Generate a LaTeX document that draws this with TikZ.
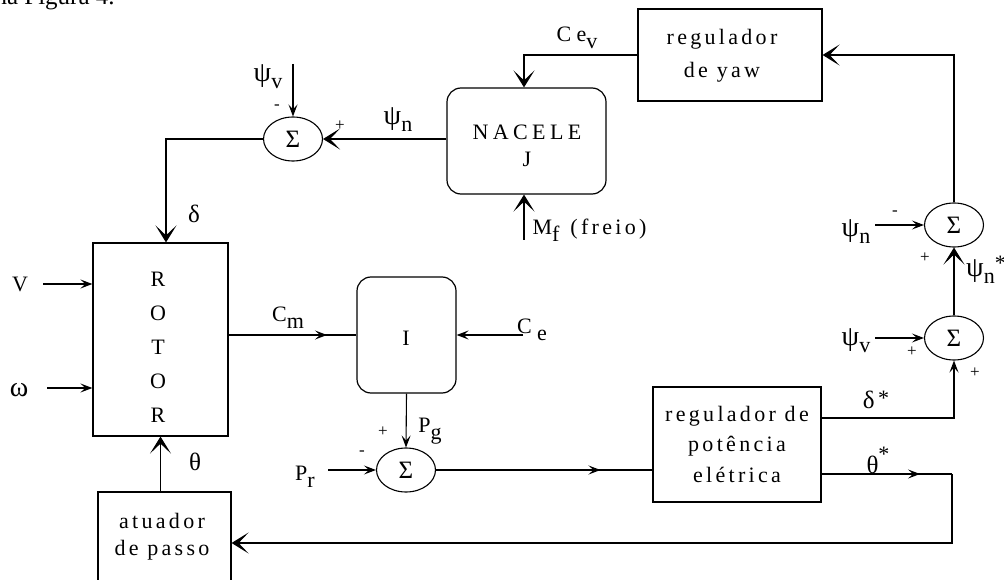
\documentclass[tikz,border=0pt]{standalone}
\usepackage{fontspec}
\setmainfont{Liberation Serif}
\usetikzlibrary{arrows.meta,shapes.geometric,decorations.markings}
\newcommand{\sbx}[1]{\raisebox{-7pt}{#1}}
\newcommand{\lsp}[1]{{\addfontfeature{LetterSpace=15}#1}}
\newcommand{\gk}[2][28]{{\fontsize{#1}{#1}\selectfont #2}}
\begin{document}
\begin{tikzpicture}[x=1pt,y=-1pt,
  font=\fontsize{22}{27}\selectfont,
  line width=1.1pt,
  box/.style={draw, line width=1.2pt, inner sep=0},
  rbox/.style={box, rounded corners=14pt},
  sum/.style={draw, ellipse, minimum width=59pt, minimum height=44pt, inner sep=0, line width=1.1pt},
  big/.style={-{Stealth[length=17pt,width=21pt,inset=10pt]}},
  small/.style={-{Stealth[length=12pt,width=9pt,inset=5pt]}},
  midarr/.style={postaction={decorate}, decoration={markings, mark=at position #1 with {\arrow{Stealth[length=12pt,width=9pt,inset=5pt]}}}},
  lab/.style={inner sep=0},
  sg/.style={inner sep=0, font=\fontsize{17}{17}\selectfont}]
\useasboundingbox (0,0) rectangle (1004,580);
\fill[white] (0,0) rectangle (1004,580);
\node[lab, anchor=base west, font=\fontsize{25}{25}\selectfont] (top) at (-6,5) {na Figura 4.};

% blocks
\node[box, minimum width=135pt, minimum height=193pt] (rotor) at (160.5,339.5) {};
\node[lab, align=center, font=\fontsize{22}{34}\selectfont] (rotortxt) at (158,347) {R\\O\\T\\O\\R};
\node[rbox, minimum width=159pt, minimum height=106pt] (nacele) at (526.5,141) {};
\node[lab, align=center] (nacetxt) at (527,146) {{\addfontfeature{LetterSpace=20}NACELE}\\J};
\node[box, minimum width=184pt, minimum height=92pt] (yaw) at (730,55) {};
\node[lab, align=center, font=\fontsize{22}{33}\selectfont] (yawtxt) at (722,56) {\lsp{regulador}\\\lsp{de yaw}};
\node[rbox, minimum width=99pt, minimum height=116pt] (inert) at (406.5,335) {};
\node[lab] (itxt) at (406,338) {I};
\node[box, minimum width=168pt, minimum height=115pt] (pot) at (737,444.5) {};
\node[lab, align=center, font=\fontsize{22}{30.5}\selectfont] (pottxt) at (737,444) {\lsp{regulador de}\\\lsp{potência}\\\lsp{elétrica}};
\node[box, minimum width=133pt, minimum height=128pt] (atu) at (164.5,556) {};
\node[lab, align=center, font=\fontsize{22}{27}\selectfont] (atutxt) at (162,537) {\lsp{atuador}\\\lsp{de passo}};

% summing junctions
\node[sum] (s1) at (293,139) {\gk[25]{Σ}};
\node[sum] (s2) at (406,470) {\gk[25]{Σ}};
\node[sum] (s3) at (954,225) {\gk[25]{Σ}};
\node[sum] (s4) at (954,338) {\gk[25]{Σ}};

% free ends
\coordinate (psiv1) at (293,64);
\coordinate (mfin) at (524,240);
\coordinate (vin) at (43,284);
\coordinate (win) at (47,388);
\coordinate (cein) at (523,335);
\coordinate (prin) at (328,470);
\coordinate (psin3) at (875,225);
\coordinate (psiv4) at (875,338);
\coordinate (c1) at (952,474);
\coordinate (c2) at (952,543);

% connectors
\draw[small] (psiv1) -- (s1.north);
\draw[big] (nacele.west |- s1.east) -- (s1.east);
\draw[big] (s1.west) -| ([xshift=5.5pt]rotor.north);
\draw[big] (yaw.west) -| ([xshift=-2.5pt]nacele.north);
\draw[big] (mfin) -- ([xshift=-2.5pt]nacele.south);
\draw[big] (s3.north) |- (yaw.east);
\draw[small] (psin3) -- (s3.west);
\draw[big] (s4.north) -- (s3.south);
\draw[small] (psiv4) -- (s4.west);
\draw[small] ([yshift=26.5pt]pot.east) -| (s4.south);
\draw[midarr=0.755] ([yshift=-29.5pt]pot.east) -- (c1);
\draw[big] (c1) -- (c2) -- (c2 -| atu.east);
\draw[big] (atu.north -| rotor.south) -- (rotor.south);
\draw[small] (vin) -- (vin -| rotor.west);
\draw[small] (win) -- (win -| rotor.west);
\draw[line width=2.2pt, midarr=0.77] (rotor.east |- inert.west) -- (inert.west);
\draw[small] (cein) -- (inert.east);
\draw[small] (inert.south) -- (s2.north);
\draw[small] (prin) -- (s2.west);
\draw[midarr=0.76] (s2.east) -- (s2.east -| pot.west);

% labels
\node[lab] (l1) at (268,77) {\gk{ψ}\sbx{v}};
\node[sg] (m1) at (277,107) {-};
\node[sg] (p1) at (340,126) {+};
\node[lab] (l2) at (398,120) {\gk{ψ}\sbx{n}};
\node[lab] (l3) at (194,214) {\gk[25]{δ}};
\node[lab] (l4) at (577,38) {C e\sbx{v}};
\node[lab, anchor=west] (l5) at (532,230) {M\sbx{f}\ \ \lsp{(freio)}};
\node[lab] (l6) at (20,284) {V};
\node[lab] (l7) at (19,390) {\gk{ω}};
\node[lab] (l8) at (288,318) {C\sbx{m}};
\node[lab] (l9) at (532,330) {C\sbx{ e}};
\node[sg] (p2) at (383,432) {+};
\node[lab] (l10) at (430,431) {P\sbx{g}};
\node[lab] (l11) at (305,477) {P\sbx{r}};
\node[sg] (m2) at (362,453) {-};
\node[lab] (l12) at (195,462) {\gk[25]{θ}};
\node[lab] (l13) at (856,232) {\gk{ψ}\sbx{n}};
\node[sg] (m3) at (895,213) {-};
\node[sg] (p3) at (925,258) {+};
\node[lab] (l14) at (986,270) {\gk{ψ}\sbx{n}\raisebox{6pt}{*}};
\node[lab] (l15) at (856,341) {\gk{ψ}\sbx{v}};
\node[sg] (p4) at (912,352) {+};
\node[sg] (p5) at (975,373) {+};
\node[lab] (l16) at (876,400) {\gk[25]{δ}\,\raisebox{3pt}{*}};
\node[lab] (l17) at (878,460) {\gk[25]{θ}\raisebox{12pt}{*}};
\end{tikzpicture}
\end{document}
